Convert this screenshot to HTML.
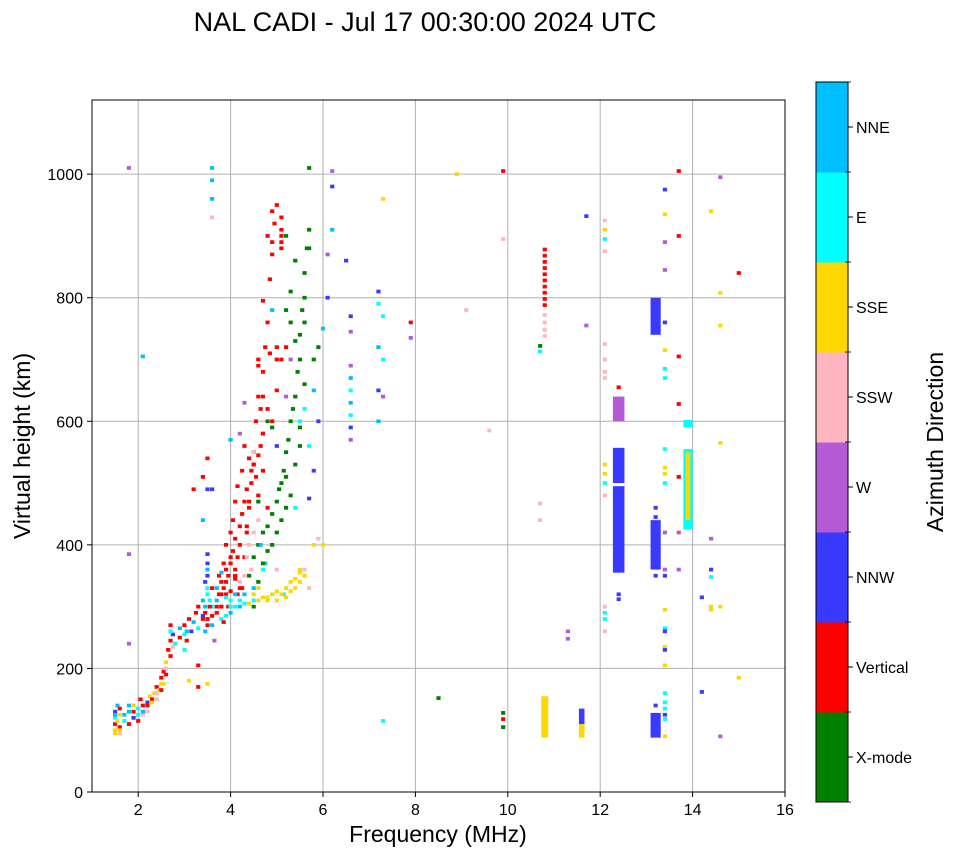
<!DOCTYPE html>
<html><head><meta charset="utf-8">
<style>
html,body{margin:0;padding:0;background:#fff;}
svg{display:block;font-family:"Liberation Sans","DejaVu Sans",sans-serif;}
</style></head>
<body>
<svg id="chart" width="958" height="857" viewBox="0 0 958 857" xmlns="http://www.w3.org/2000/svg">
<text x="425" y="31" font-size="27" text-anchor="middle">NAL CADI - Jul 17 00:30:00 2024 UTC</text>
<g id="grid"></g>
<g id="marks"></g>
<rect x="92" y="100" width="693" height="692" fill="none" stroke="#000" stroke-width="1"/>
<g id="axes"></g>
<text x="438" y="842" font-size="23" text-anchor="middle">Frequency (MHz)</text>
<text x="0" y="0" font-size="23" text-anchor="middle" transform="translate(30,446) rotate(-90)">Virtual height (km)</text>
<g id="cbar"></g>
<text x="0" y="0" font-size="23" text-anchor="middle" transform="translate(943,442) rotate(-90)">Azimuth Direction</text>
</svg>
<script>
const dirNames = ["X-mode","Vertical","NNW","W","SSW","SSE","E","NNE"];
const dirColors = ["#008000","#ff0000","#3a3aff","#b65bd6","#ffb6c1","#ffd700","#00ffff","#00bfff"];
const xTicks = [2,4,6,8,10,12,14,16];
const yTicks = [0,200,400,600,800,1000];

const ptFreq = [1.5,1.5,1.5,1.5,1.55,1.6,1.6,1.7,1.8,1.8,1.9,1.9,2.0,2.0,2.05,2.1,2.15,2.2,2.25,2.3,2.35,2.4,2.45,2.5,2.5,2.55,2.6,2.6,2.65,2.7,2.7,2.75,2.8,2.9,2.9,3.0,3.0,3.05,3.1,3.15,3.2,3.25,3.3,3.3,3.4,3.4,3.45,3.5,3.5,3.5,3.5,3.6,3.6,3.65,3.7,3.7,3.75,3.8,3.8,3.8,3.85,3.9,3.9,3.9,4.0,4.0,4.0,4.0,4.05,4.1,4.1,4.1,4.15,4.2,4.2,4.25,4.3,4.3,4.35,4.4,4.4,4.45,4.5,4.5,4.55,4.6,4.6,4.65,4.7,4.75,4.8,4.8,4.85,4.9,4.9,4.95,5.0,5.0,5.1,5.15,5.2,5.3,5.4,5.5,5.5,3.1,3.3,3.5,3.3,3.2,3.4,3.5,3.6,
4.4,4.5,4.6,4.7,4.8,4.9,5.0,5.05,5.1,5.15,5.2,5.25,5.3,5.35,5.4,5.45,5.5,5.5,5.55,5.6,5.6,5.65,5.7,5.7,5.8,5.9,5.3,5.4,5.2,
5.5,5.6,5.8,5.9,5.7,6.0,6.1,6.2,6.2,6.2,6.1,5.4,5.0,5.2,5.3,4.9,4.0,3.6,3.6,3.6,3.6,3.4,3.5,6.5,6.6,6.6,6.6,6.6,6.6,6.6,6.6,6.6,6.6,7.2,7.2,7.3,7.2,7.3,7.2,7.2,7.3,7.9,7.9,7.3,7.3,6.0,5.9,5.7,5.8,1.8,1.8,1.8,2.1,4.2,4.3,
4.6,4.7,4.8,4.9,5.0,5.1,4.5,4.4,4.3,4.2,4.1,3.9,3.8,4.6,4.8,5.0,5.1,4.7,
8.9,9.9,9.9,9.1,9.6,8.5,9.9,9.9,9.9,10.7,10.7,10.7,10.7,11.3,11.3,11.7,11.7,12.1,12.1,12.1,12.1,12.1,12.1,12.1,12.1,12.1,12.1,12.1,12.1,12.1,12.1,12.1,12.1,12.4,12.4,12.4,12.4,13.2,13.2,13.2,13.2,13.4,13.4,13.4,13.4,13.4,13.4,13.4,13.4,13.4,13.4,13.4,13.4,13.4,13.4,13.4,13.4,13.4,13.4,13.4,13.4,13.4,13.4,13.4,13.4,13.4,13.4,13.4,13.7,13.7,13.7,13.7,13.7,13.7,13.7,14.2,14.2,14.4,14.4,14.4,14.4,14.4,14.4,14.6,14.6,14.6,14.6,14.6,14.6,15.0,15.0,
3.4,3.45,3.5,3.55,3.6,3.7,3.75,3.8,3.85,3.9,3.95,4.0,4.05,4.1,4.15,4.2,4.25,4.3,4.35,4.4,4.45,4.5,4.55,4.6,4.65,4.7,4.35,4.25,4.15,3.95,3.85,4.0,4.1,
3.45,3.55,3.6,3.7,3.8,3.9,4.0,4.1,4.2,4.3,3.5,3.5,3.5,3.45,3.05,3.0,4.5,4.7,4.75,4.65,
4.2,4.3,4.4,4.45,4.5,4.35,4.6,4.5,5.6,5.7,5.0,2.2,2.4,1.6,2.1,
4.5,4.6,4.7,4.8,5.0,5.1,5.2,5.3,5.4,5.5,5.6,5.8,1.5,1.6,
4.5,4.6,4.7,4.8,4.9,5.0,5.1,5.2,5.3,5.2,5.4,5.5,5.5,5.6,5.4,5.6,5.7,5.2,5.3,
4.9,4.8,4.7,4.6,5.0,5.2,4.85,4.9,5.1,5.1,5.1,4.9,4.7,4.8,4.6,
1.5,1.55,1.6,1.7,1.8,1.9,2.0,2.1,2.2,2.3,2.4,2.5,2.55,2.6,2.7,2.75,2.7,
10.8,10.8,10.8,10.8,10.8,10.8,10.8,10.8,10.8,10.8,10.8,10.8,10.8,10.8];
const ptHeight = [100,110,120,130,140,105,125,115,110,130,120,140,115,135,150,140,130,145,155,150,160,170,165,175,185,195,190,210,230,245,270,255,240,250,265,255,270,245,280,260,275,290,265,300,285,310,340,280,320,360,385,300,330,245,290,310,350,280,300,320,370,285,340,400,290,310,380,420,440,300,360,470,495,300,400,520,305,560,430,305,540,500,310,550,600,310,640,620,680,720,315,760,830,320,870,920,950,310,900,320,315,325,330,340,360,180,170,175,205,490,510,540,490,
350,380,400,420,430,450,470,490,500,520,550,570,600,620,640,680,700,740,780,800,840,880,910,1010,700,720,760,860,900,
600,620,650,600,560,750,800,910,980,1005,870,460,560,640,700,780,570,1010,990,930,960,440,490,860,770,745,690,670,650,630,610,590,570,810,790,770,720,700,650,600,640,760,735,960,115,400,410,475,520,1010,385,240,705,580,630,
480,520,460,590,650,700,530,460,380,330,350,320,300,470,600,720,880,580,
1000,1005,895,780,585,152,128,118,105,722,713,467,440,260,248,932,755,925,910,895,875,725,700,680,670,530,515,500,480,300,290,280,260,655,620,320,312,460,445,350,140,975,935,890,845,760,715,685,670,555,525,515,500,420,360,350,295,265,260,235,230,205,160,145,135,125,118,90,1005,900,705,628,510,420,360,315,162,940,410,360,348,300,295,995,808,755,565,300,90,840,185,
280,290,270,300,285,300,320,340,330,360,350,370,390,410,380,430,450,470,490,470,520,530,510,545,560,580,420,330,320,300,275,325,345,
300,310,270,330,355,315,300,320,310,320,350,370,330,260,260,230,330,360,370,400,
340,350,400,360,420,380,440,550,360,330,360,130,150,95,125,
320,330,315,310,325,320,330,340,345,355,350,400,95,100,
300,340,370,390,400,420,440,460,480,510,530,560,590,660,730,760,880,780,810,
600,620,640,690,700,720,710,890,930,910,890,940,795,900,700,
125,115,135,125,140,130,125,130,140,145,160,165,175,200,220,235,260,
878,868,858,848,838,828,818,808,798,788,772,760,748,738];
const ptDir = [5,1,6,2,7,1,5,6,1,7,2,5,1,6,1,1,5,2,5,1,5,1,5,5,1,1,1,5,1,1,1,2,6,1,7,6,1,1,1,2,7,1,6,1,2,7,2,1,6,7,2,6,1,3,1,7,1,6,2,1,1,6,1,1,7,6,1,1,1,6,1,1,1,7,1,1,6,1,1,5,1,1,6,1,1,5,1,1,1,1,5,1,1,5,1,1,1,5,1,6,5,5,5,5,5,5,1,5,1,1,1,1,2,
0,0,0,0,0,0,0,0,0,0,0,0,0,0,0,0,0,0,0,0,0,0,0,0,0,0,0,0,0,
6,6,7,2,6,7,2,7,2,3,3,6,2,3,3,7,7,7,7,4,7,7,2,2,2,3,3,7,6,7,6,2,3,2,6,6,7,6,2,7,3,1,3,5,6,5,4,2,2,3,3,3,7,3,3,
1,1,1,0,1,1,1,1,1,1,1,1,1,0,0,1,1,1,
5,1,4,4,4,0,0,1,0,0,6,4,4,3,3,2,3,4,5,6,4,4,4,4,4,5,5,6,4,4,6,6,4,1,1,2,2,2,2,2,2,2,5,3,3,2,5,6,6,6,5,5,6,3,3,2,5,6,2,5,2,5,6,6,6,2,6,5,1,1,1,1,1,3,3,2,2,5,3,2,6,5,5,3,5,5,5,5,3,1,5,
1,1,1,1,1,1,1,1,1,1,1,1,1,1,1,1,1,1,1,1,1,1,1,1,1,1,1,1,1,1,1,1,1,
7,6,7,7,7,6,6,7,6,7,2,2,6,7,7,6,7,6,7,7,
4,4,4,4,4,4,4,4,4,4,4,4,4,4,4,
5,5,5,5,5,5,5,5,5,5,5,5,5,5,
0,0,0,0,0,0,0,0,0,0,0,0,0,0,0,0,0,0,0,
1,1,1,1,1,1,1,1,1,1,1,1,1,1,1,
7,5,1,7,7,1,6,7,1,5,4,1,5,4,1,4,6,
1,1,1,1,1,1,1,1,1,1,4,4,4,4];

const barFreq = [10.8,11.6,11.6,12.4,12.4,12.4,13.2,13.2,13.2,13.9,13.9,13.9];
const barLow  = [88,88,110,355,500,600,740,360,88,425,440,590];
const barHigh = [155,110,135,495,557,640,800,440,128,555,550,602];
const barDir  = [5,5,2,2,2,3,2,2,2,6,5,6];
const barWidth= [0.15,0.12,0.12,0.25,0.25,0.25,0.22,0.22,0.22,0.2,0.1,0.2];

const X0=92,X1=785,Y0=792,Y1=100,FMIN=1,FMAX=16,HMIN=0,HMAX=1120;
const xs=f=>X0+(f-FMIN)/(FMAX-FMIN)*(X1-X0);
const ys=h=>Y0-(h-HMIN)/(HMAX-HMIN)*(Y0-Y1);
const NS="http://www.w3.org/2000/svg";
function mk(tag,attrs,parent){const e=document.createElementNS(NS,tag);for(const k in attrs)e.setAttribute(k,attrs[k]);parent.appendChild(e);return e;}
const grid=document.getElementById('grid'),axes=document.getElementById('axes'),marks=document.getElementById('marks'),cbar=document.getElementById('cbar');

xTicks.forEach(t=>{const x=xs(t);
 const g=mk('line',{x1:x,x2:x,y1:Y1,y2:Y0,stroke:'#b0b0b0','stroke-width':1},grid);
 
 
 mk('line',{x1:x,x2:x,y1:Y0,y2:Y0+5,stroke:'#000'},axes);
 const l=mk('text',{x:x,y:Y0+23,'font-size':16,'text-anchor':'middle'},axes);l.textContent=t;
 
 
});
yTicks.forEach(t=>{const y=ys(t);
 const g=mk('line',{x1:X0,x2:X1,y1:y,y2:y,stroke:'#b0b0b0','stroke-width':1},grid);
 
 
 mk('line',{x1:X0-5,x2:X0,y1:y,y2:y,stroke:'#000'},axes);
 const l=mk('text',{x:X0-9,y:y+6,'font-size':16,'text-anchor':'end'},axes);l.textContent=t;
 
 
});

const CW=0.09,CH=6;
for(let i=0;i<ptFreq.length;i++){
 const x=xs(ptFreq[i]-CW/2),w=xs(ptFreq[i]+CW/2)-x;
 const y=ys(ptHeight[i]+CH/2),h=ys(ptHeight[i]-CH/2)-y;
 const r=mk('rect',{x:x,y:y,width:w,height:h,fill:dirColors[ptDir[i]]},marks);
 
 
}
for(let i=0;i<barFreq.length;i++){
 const x=xs(barFreq[i]-barWidth[i]/2),w=xs(barFreq[i]+barWidth[i]/2)-x;
 const y=ys(barHigh[i]),h=ys(barLow[i])-y;
 const r=mk('rect',{x:x,y:y,width:w,height:h,fill:dirColors[barDir[i]]},marks);
 
 
}

const CX=816,CWD=32,CT=82,CB=802,seg=(CB-CT)/dirNames.length;
dirNames.forEach((n,i)=>{
 const y=CB-(i+1)*seg;
 const r=mk('rect',{x:CX,y:y,width:CWD,height:seg+0.5,fill:dirColors[i]},cbar);
 
 
 mk('line',{x1:CX+CWD,x2:CX+CWD+5,y1:y+seg/2,y2:y+seg/2,stroke:'#000'},cbar);
 const l=mk('text',{x:CX+CWD+8,y:y+seg/2+6,'font-size':16},cbar);l.textContent=n;
 
 
});
for(let i=0;i<=dirNames.length;i++){const y=CB-i*seg;mk('line',{x1:CX+CWD-3,x2:CX+CWD+3,y1:y,y2:y,stroke:'#000','stroke-width':0.8},cbar);}
mk('rect',{x:CX,y:CT,width:CWD,height:CB-CT,fill:'none',stroke:'#000','stroke-width':1},cbar);
</script>
</body></html>
